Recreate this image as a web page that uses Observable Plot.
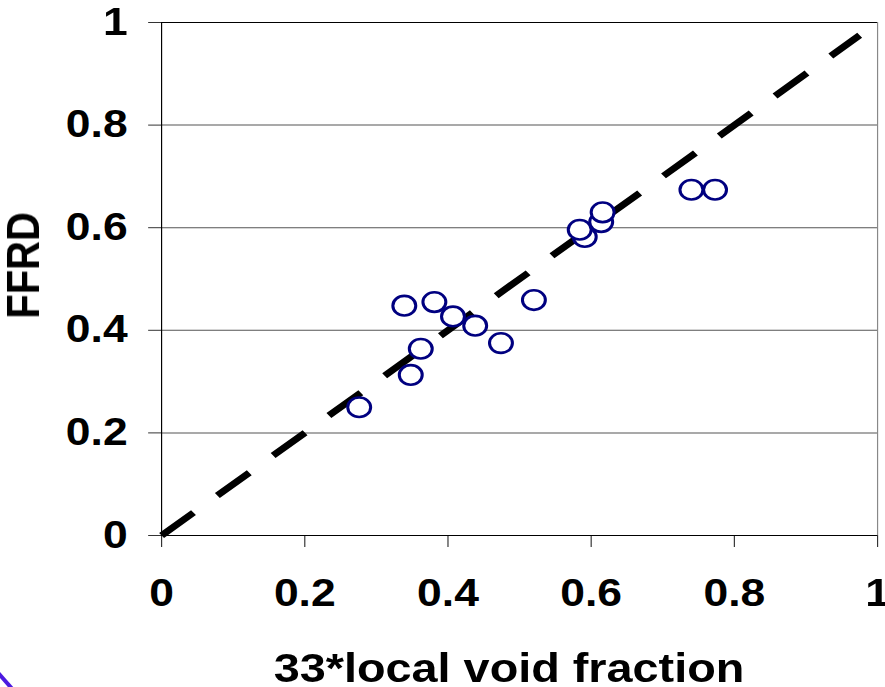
<!DOCTYPE html>
<html>
<head>
<meta charset="utf-8">
<script src="https://cdn.jsdelivr.net/npm/d3@7"></script>
<script src="https://cdn.jsdelivr.net/npm/@observablehq/plot@0.6"></script>
<style>
  html, body { margin: 0; padding: 0; background: white; overflow: hidden; }
  #wrap { position: absolute; left: 0; top: 0; transform-origin: 0 0; }
  #stray { position: absolute; left: -8px; top: 670px; width: 34px; height: 4px; background: #4c1ae0;
           transform-origin: 0 50%; transform: translate(0, -6px) rotate(48.6deg); }
</style>
</head>
<body>
<div id="wrap"></div>
<div id="stray"></div>
<script>
// ---- data ----
const voidFraction = [0.276, 0.339, 0.381, 0.407, 0.438, 0.362, 0.348, 0.474, 0.520, 0.591, 0.584, 0.614, 0.616, 0.740, 0.773];
const ffrd         = [0.250, 0.448, 0.455, 0.427, 0.409, 0.364, 0.313, 0.375, 0.459, 0.582, 0.596, 0.611, 0.630, 0.674, 0.674];
const refLineX = [0, 0.975];
const refLineY = [0, 0.975];
const xTicks = [0, 0.2, 0.4, 0.6, 0.8, 1];
const xTickLabels = ["0", "0.2", "0.4", "0.6", "0.8", "1"];
const yTicks = [0, 0.2, 0.4, 0.6, 0.8, 1];
const yTickLabels = ["0", "0.2", "0.4", "0.6", "0.8", "1"];
const gridY = [0.2, 0.4, 0.6, 0.8];
const xTitle = "33*local void fraction";
const yTitle = "FFRD";

const points = voidFraction.map((v, i) => ({x: v, y: ffrd[i]}));
const refLine = refLineX.map((v, i) => ({x: v, y: refLineY[i]}));

// the reference image is stretched horizontally
const S = 1.17;
const W = 885 / S;
const font = "'Liberation Sans', Arial, Helvetica, sans-serif";

const chart = Plot.plot({
  width: W,
  height: 687,
  marginLeft: 161 / S,
  marginRight: (885 - 877) / S,
  marginTop: 22,
  marginBottom: 152,
  x: {domain: [0, 1]},
  y: {domain: [0, 1]},
  style: {fontFamily: font, fontWeight: "bold", fontSize: "38px", color: "black", background: "white", overflow: "visible"},
  marks: [
    Plot.ruleY(gridY, {stroke: "#555", strokeWidth: 1}),
    Plot.ruleY([1], {stroke: "#000", strokeWidth: 1}),
    Plot.ruleX([1], {stroke: "#888", strokeWidth: 1}),
    Plot.axisX(xTicks, {anchor: "bottom", tickSize: 12, tickPadding: 32, stroke: "#333",
      tickFormat: (d, i) => xTickLabels[i], label: null, fontSize: 38, fontWeight: "bold", fill: "black"}),
    Plot.axisY(yTicks, {anchor: "left", tickSize: 11, tickPadding: 18, stroke: "#333",
      tickFormat: (d, i) => yTickLabels[i], label: null, fontSize: 38, fontWeight: "bold", fill: "black"}),
    Plot.ruleX([0], {stroke: "#000", strokeWidth: 1}),
    Plot.ruleY([0], {stroke: "#000", strokeWidth: 1}),
    Plot.line(refLine, {x: "x", y: "y", stroke: "black", strokeWidth: 6.5,
      strokeDasharray: "35.6 26.6", strokeLinecap: "butt"}),
    Plot.dot(points, {x: "x", y: "y", r: 9.8, stroke: "#000080", strokeWidth: 2.6, fill: "white"}),
    Plot.text([xTitle], {frameAnchor: "bottom", dx: -9, dy: 147, lineAnchor: "bottom",
      fontSize: 40, fontWeight: "bold", fill: "black"}),
    Plot.text([yTitle], {frameAnchor: "left", dx: 32.5 - 161 / S, dy: 265 - 278.5, rotate: -90,
      lineAnchor: "bottom", textAnchor: "middle", fontSize: 40, fontWeight: "bold", fill: "black"})
  ]
});

const wrap = document.getElementById("wrap");
wrap.style.width = W + "px";
wrap.style.transform = `scaleX(${S})`;
wrap.appendChild(chart);
</script>
</body>
</html>
